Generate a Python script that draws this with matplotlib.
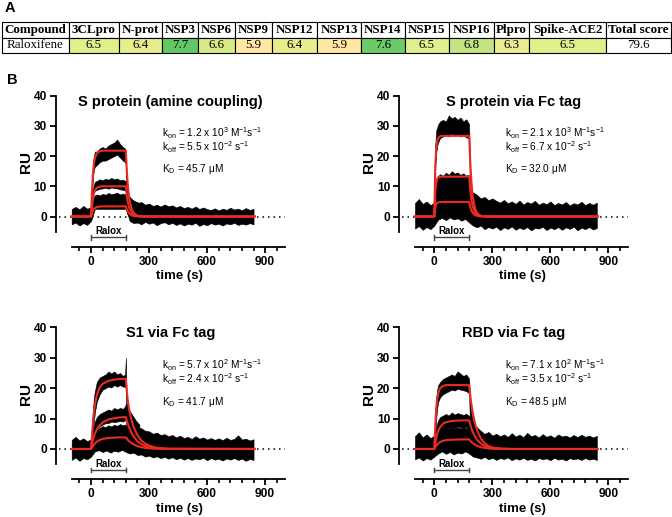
import matplotlib
matplotlib.use("Agg")
import matplotlib.pyplot as plt
from matplotlib.colors import LinearSegmentedColormap, Normalize
from matplotlib.ticker import FixedLocator

plt.rcParams["font.family"] = ["Liberation Sans", "DejaVu Sans"]
plt.rcParams["mathtext.default"] = "regular"

# ---- panel A: docking score table ----
headers = ["Compound", "3CLpro", "N-prot", "NSP3", "NSP6", "NSP9", "NSP12", "NSP13",
           "NSP14", "NSP15", "NSP16", "Plpro", "Spike-ACE2", "Total score"]
compound = "Raloxifene"
scores = [6.5, 6.4, 7.7, 6.6, 5.9, 6.4, 5.9, 7.6, 6.5, 6.8, 6.3, 6.5]
total_score = 79.6

# ---- panel B: SPR sensorgrams ----
titles = ["S protein (amine coupling)", "S protein via Fc tag", "S1 via Fc tag", "RBD via Fc tag"]
kon_mant = [1.2, 2.1, 5.7, 7.1]
kon_exp = [3, 3, 2, 2]
koff_mant = [5.5, 6.7, 2.4, 3.5]
koff_exp = [-2, -2, -2, -2]
kd_um = [45.7, 32.0, 41.7, 48.5]

# noise envelope of the baseline trace (s, RU)
t_base = [-100, -80, -60, -40, -20, 0, 20, 40, 60, 80, 100, 120, 140, 160, 180, 200, 220, 240,
          260, 280, 300, 320, 340, 360, 380, 400, 420, 440, 460, 480, 500, 520, 540, 560, 580,
          600, 620, 640, 660, 680, 700, 720, 740, 760, 780, 800, 820, 840]
# noise envelope of the three association traces
t_assoc = [0, 5, 10, 15, 20, 30, 45, 60, 75, 90, 105, 120, 135, 150, 165, 176, 180, 184, 190,
           200, 215, 230, 250]
# fitted 1:1 binding curves
t_fit = [-100, 0, 5, 10, 15, 20, 30, 45, 60, 90, 120, 150, 180, 185, 190, 195, 200, 210, 220,
         240, 260, 280, 300, 340, 400, 845]

# S protein (amine coupling)
p1_base_hi = [2.5, 3.2, 2.4, 3.5, 2.6, 3.0,
              5.0, 5.0, 5.0, 5.0, 5.0, 5.0, 5.0, 5.0, 5.0,
              6.0, 5.2, 4.4, 4.8, 3.9, 4.3, 3.5, 3.9, 3.3, 4.0,
              3.4, 3.7, 3.0, 3.5, 2.8, 3.2, 2.6, 3.3, 2.5, 3.0,
              2.4, 2.2, 2.7, 2.0, 2.6, 2.2, 2.9, 2.3, 2.6, 2.1,
              2.8, 2.2, 2.5]
p1_base_lo = [-2.6, -2.0, -3.0, -2.2, -2.8, -1.5,
              2.5, 2.5, 2.5, 2.5, 2.5, 2.5, 2.5, 2.5, 2.5,
              -1.5, -2.2, -2.0, -2.6, -1.8, -2.4, -2.0, -2.9, -2.2, -1.9,
              -2.6, -2.1, -2.8, -2.3, -3.0, -2.4, -2.7, -2.1, -3.1, -2.5,
              -2.9, -2.2, -2.7, -2.4, -3.0, -2.3, -2.6, -2.1, -2.8, -2.4,
              -2.7, -2.2, -2.6]
p1_top_hi = [0.5, 12, 18, 20, 21.5, 21.5, 22.5, 23, 22.5, 23.5, 24, 24.5, 25.5, 24, 23, 22.5, 21.5, 13, 8, 6.5, 5.5, 5, 4.5]
p1_top_lo = [-0.5, 7, 13, 15.5, 16.5, 17, 18, 18.5, 18.5, 19, 19.5, 20, 20.5, 19.5, 18.5, 18, 17, 5, 2, 0.5, 0, -0.5, -1]
p1_mid_hi = [0.5, 6, 9, 10.5, 11.5, 11.8, 12.3, 12, 12.5, 12.2, 12.8, 12.3, 12.6, 12, 12.2, 11.8, 11.5, 8, 6, 5.5, 5, 4.5, 4.2]
p1_mid_lo = [-0.5, 3, 6.5, 8, 8.5, 8.8, 9.2, 9.3, 9.5, 9.2, 9.6, 9.4, 9.3, 9, 8.8, 8.6, 8.2, 3, 1, 0, -0.5, -1, -1.5]
p1_low_hi = [0.5, 4, 5.5, 6.5, 7, 7.3, 7, 7.5, 7.2, 7.8, 7.4, 7.6, 7.9, 7.3, 7.6, 7.4, 7, 5, 4.5, 4.5, 4.2, 4, 4]
p1_low_lo = [-0.5, 1.5, 2.5, 3, 3.3, 3.5, 3.6, 3.8, 3.6, 3.9, 3.7, 3.8, 3.9, 3.6, 3.7, 3.5, 3.5, 1.5, 0.5, 0, -0.5, -1, -1.2]
p1_fit_hi = [0, 0, 8.5, 14, 17.5, 19.3, 20.9, 21.6, 21.8, 21.8, 21.8, 21.8, 21.8, 15, 10.5, 7.5, 5.2, 2.6, 1.2, 0.3, 0.05, 0, 0, 0, 0, 0]
p1_fit_mid = [0, 0, 3.5, 6, 7.6, 8.6, 9.5, 9.9, 10, 10, 10, 10, 10, 7, 4.8, 3.4, 2.4, 1.2, 0.55, 0.15, 0.02, 0, 0, 0, 0, 0]
p1_fit_low = [0, 0, 1.1, 1.9, 2.5, 2.8, 3.1, 3.3, 3.35, 3.35, 3.35, 3.35, 3.35, 2.4, 1.7, 1.2, 0.85, 0.4, 0.2, 0.05, 0, 0, 0, 0, 0, 0]

# S protein via Fc tag
p2_base_hi = [4.5, 5.8, 4.2, 5.0, 3.8, 4.6,
              6.5, 7.0, 6.2, 7.2, 6.8, 7.5, 6.6, 7.0, 7.5,
              8.0, 7.2, 6.0, 6.5, 5.4, 6.0, 5.2, 4.6, 5.5, 4.4,
              5.0, 4.2, 5.3, 4.0, 4.8, 4.3, 5.2, 3.9, 4.6, 4.1,
              5.0, 3.8, 4.5, 4.0, 4.8, 3.7, 4.4, 4.0, 4.9, 3.8,
              4.5, 3.9, 4.6]
p2_base_lo = [-4.0, -3.2, -4.4, -3.5, -4.2, -3.0,
              -1.0, -0.5, -1.2, -0.3, -1.0, -0.6, -1.4, -0.8, -2.0,
              -3.0, -3.6, -3.0, -4.2, -3.5, -4.0, -3.4, -4.5, -3.6, -4.1,
              -3.3, -4.4, -3.7, -4.2, -3.5, -4.6, -3.8, -4.0, -3.4, -4.5,
              -3.7, -4.2, -3.5, -4.4, -3.6, -4.1, -3.4, -4.6, -3.7, -4.2,
              -3.5, -4.3, -3.8]
p2_top_hi = [1, 24, 28.5, 29.5, 30.5, 31.5, 32, 31.5, 33.5, 32.5, 33, 32, 32.8, 31.5, 32.2, 31, 30.5, 18, 10, 7, 6.5, 6, 5.5]
p2_top_lo = [-1, 16, 21, 23.5, 24.5, 26, 26.5, 27, 26.5, 27.5, 26.8, 27.2, 26.5, 27, 26.2, 26, 25.5, 6, 1, -1, -2, -2.5, -3]
p2_mid_hi = [1, 9, 12, 13, 13.5, 14, 13.5, 14.5, 13.8, 15, 14.2, 14.6, 13.8, 14.3, 13.5, 13.8, 13.5, 9, 6, 5.5, 5, 5, 5]
p2_mid_lo = [-1, 4, 7, 8, 8.5, 8.8, 9, 9.2, 8.8, 9.5, 9, 9.3, 8.8, 9.1, 8.7, 8.8, 8.5, 2, 0, -1, -1.5, -2, -2.5]
p2_low_hi = [1, 6, 8, 9, 9.5, 10, 9.5, 10.5, 9.8, 10.2, 9.6, 10.4, 9.8, 10.1, 9.7, 9.8, 9.5, 6, 5, 4.5, 4.5, 4.5, 4.5]
p2_low_lo = [-1, 1.5, 2.5, 3, 3.2, 3.5, 3.4, 3.8, 3.5, 3.7, 3.4, 3.6, 3.3, 3.5, 3.2, 3.4, 3.2, 0, -1, -1.5, -2, -2.5, -3]
p2_fit_hi = [0, 0, 17, 22.5, 25, 26, 26.6, 26.7, 26.7, 26.7, 26.7, 26.7, 26.7, 19, 13, 9, 6, 2.8, 1.2, 0.25, 0.05, 0, 0, 0, 0, 0]
p2_fit_mid = [0, 0, 8.4, 11.2, 12.4, 12.9, 13.15, 13.2, 13.2, 13.2, 13.2, 13.2, 13.2, 9.4, 6.4, 4.4, 3.0, 1.4, 0.6, 0.12, 0.02, 0, 0, 0, 0, 0]
p2_fit_low = [0, 0, 3.0, 4.0, 4.5, 4.7, 4.8, 4.8, 4.8, 4.8, 4.8, 4.8, 4.8, 3.4, 2.3, 1.6, 1.1, 0.5, 0.22, 0.04, 0, 0, 0, 0, 0, 0]

# S1 via Fc tag
p3_base_hi = [3.0, 4.0, 2.8, 3.5, 2.6, 3.2,
              4.8, 5.2, 4.6, 5.4, 5.0, 5.6, 4.9, 5.5, 6.0,
              8.5, 8.0, 7.2, 6.8, 6.0, 5.8, 5.0, 5.4, 4.6, 4.9,
              4.2, 4.6, 3.8, 4.4, 3.6, 4.0, 3.3, 4.2, 3.4, 3.8,
              3.1, 3.6, 3.0, 3.5, 2.9, 3.7, 3.0, 3.3, 4.5, 3.1,
              3.4, 2.8, 3.2]
p3_base_lo = [-3.6, -2.8, -3.9, -3.0, -3.4, -2.5,
              -0.8, -0.4, -1.0, -0.5, -1.2, -0.6, -0.9, -0.3, -1.0,
              -1.5, -1.2, -2.0, -1.8, -2.5, -2.2, -2.8, -2.4, -3.0, -2.6,
              -3.2, -2.7, -3.4, -2.9, -3.5, -3.0, -3.6, -3.1, -3.4, -2.9,
              -3.7, -3.0, -3.5, -3.2, -3.8, -3.1, -3.5, -3.0, -3.6, -3.2,
              -3.9, -3.3, -3.6]
p3_top_hi = [1, 8, 13, 17, 19, 22, 23.5, 24, 24.5, 25.5, 24.8, 25.5, 24.5, 25, 24, 24.5, 30, 16, 14, 12.5, 11, 9.5, 8]
p3_top_lo = [-1, 2, 6, 9, 12, 15.5, 18, 19.5, 20, 20.5, 20.2, 21, 20.5, 21, 20.5, 20.5, 20, 11, 8.5, 7, 5, 3.5, 2]
p3_mid_hi = [1, 4, 6, 7.5, 9, 10.5, 11.5, 12, 12.5, 13, 12.6, 13.5, 13, 13.5, 13.2, 14, 15, 13, 11.5, 10, 8.5, 7.5, 6.5]
p3_mid_lo = [-1, 1, 2.5, 4, 5, 6.5, 7.5, 8, 8.5, 8.5, 9, 8.8, 9, 9.2, 9, 9.5, 9, 7, 5.5, 4, 3, 2, 1]
p3_low_hi = [1, 3, 4, 5, 5.5, 6.5, 7, 7.5, 7.2, 7.8, 7.4, 8, 7.6, 8.2, 7.8, 8, 8, 7, 6.5, 6, 5.5, 5, 4.5]
p3_low_lo = [-1, 0, 0.5, 1, 1.5, 2, 2.5, 2.8, 2.6, 3, 2.8, 3.1, 2.9, 3, 2.8, 3, 3, 2, 1.5, 1, 0.5, 0, -0.5]
p3_fit_hi = [0, 0, 4.5, 8.5, 12, 14.5, 17.8, 20.3, 21.4, 22.4, 22.8, 23, 23.1, 19, 16, 13.8, 12, 9.3, 7.3, 4.5, 2.8, 1.8, 1.1, 0.4, 0.08, 0]
p3_fit_mid = [0, 0, 1.6, 3.0, 4.1, 5.0, 6.4, 7.8, 8.7, 9.7, 10.1, 10.4, 10.5, 9.3, 8.3, 7.4, 6.6, 5.2, 4.1, 2.5, 1.6, 1.0, 0.6, 0.22, 0.05, 0]
p3_fit_low = [0, 0, 0.55, 1.0, 1.4, 1.8, 2.4, 3.0, 3.3, 3.6, 3.75, 3.8, 3.8, 3.4, 3.0, 2.7, 2.4, 1.9, 1.5, 0.9, 0.6, 0.35, 0.2, 0.07, 0.01, 0]

# RBD via Fc tag
p4_base_hi = [4.2, 5.5, 3.8, 4.8, 3.6, 4.4,
              5.0, 5.5, 4.8, 5.8, 5.2, 6.0, 5.4, 5.8, 6.0,
              7.0, 6.2, 5.6, 5.0, 5.6, 4.4, 5.0, 4.2, 4.8, 4.0,
              5.2, 4.1, 4.7, 3.9, 5.3, 4.2, 4.6, 3.8, 4.9, 4.0,
              4.5, 3.7, 4.8, 4.1, 4.4, 3.8, 4.6, 3.9, 4.7, 4.0,
              4.4, 3.8, 4.3]
p4_base_lo = [-3.4, -2.8, -3.8, -3.0, -3.5, -2.5,
              -1.5, -0.8, -1.6, -1.0, -1.8, -1.2, -1.5, -0.8, -1.5,
              -2.5, -2.8, -3.2, -2.6, -3.4, -2.9, -3.6, -3.0, -3.3, -2.8,
              -3.7, -3.1, -3.5, -2.9, -3.6, -3.2, -3.8, -3.0, -3.4, -3.1,
              -3.7, -2.9, -3.5, -3.2, -3.8, -3.0, -3.4, -3.1, -3.6, -3.0,
              -3.5, -3.2, -3.6]
p4_top_hi = [1, 12, 17, 19.5, 21, 22, 23, 23.5, 24, 24.5, 24, 25.5, 24.8, 24, 24.5, 23.5, 23, 17, 12, 9, 7.5, 6.5, 5.5]
p4_top_lo = [-1, 5, 10, 13.5, 15.5, 17, 18, 18.5, 19, 19.5, 19.2, 19.8, 19.5, 19.3, 19, 18.5, 18, 8, 4, 2, 1, 0, -1]
p4_mid_hi = [1, 5, 7, 8.5, 9.5, 10.5, 11, 11.5, 11, 12, 11.3, 11.8, 11.5, 11.2, 11.6, 11, 11, 9.5, 8, 7, 6, 5.5, 5]
p4_mid_lo = [-1, 1, 2.5, 4, 5, 6, 6.5, 7, 7, 7.2, 7, 7.3, 7.1, 7, 7.2, 7, 6.8, 5, 3.5, 2.5, 1.5, 0.5, -0.5]
p4_low_hi = [1, 3, 4, 5, 5.5, 6, 6.5, 7, 6.8, 7.2, 6.9, 7.1, 6.8, 7, 6.9, 7, 6.8, 6, 5.5, 5, 4.5, 4, 4]
p4_low_lo = [-1, -0.5, 0, 0.5, 1, 1.5, 1.8, 2, 1.8, 2.1, 1.9, 2, 1.8, 2, 1.9, 2, 1.8, 1, 0.5, 0, -0.5, -1, -1.5]
p4_fit_hi = [0, 0, 8, 13.5, 16.5, 18.3, 20, 20.7, 21, 21, 21, 21, 21, 18, 15.5, 13.3, 11.5, 8.5, 6.3, 3.5, 1.9, 1.0, 0.5, 0.12, 0, 0]
p4_fit_mid = [0, 0, 2, 3.7, 4.9, 5.9, 7.2, 8.3, 8.8, 9.2, 9.35, 9.4, 9.4, 8.2, 7.1, 6.2, 5.4, 4.1, 3.1, 1.8, 1.0, 0.55, 0.3, 0.07, 0, 0]
p4_fit_low = [0, 0, 0.6, 1.1, 1.5, 1.8, 2.3, 2.7, 2.9, 3.05, 3.1, 3.15, 3.15, 2.75, 2.4, 2.1, 1.85, 1.4, 1.05, 0.6, 0.35, 0.2, 0.1, 0.02, 0, 0]

RED = "#ec2a22"

fig = plt.figure(figsize=(6.72, 5.17), dpi=100)

# ---------- table ----------
tax = fig.add_axes([2 / 672, 1 - 53.3 / 517, 668.6 / 672, 31.6 / 517])
tax.axis("off")
col_px = [66.6, 50, 43.4, 35.6, 37.7, 36.7, 45, 44.3, 43.3, 44.4, 44.6, 35.4, 77.3, 64.3]
col_w = [w / sum(col_px) for w in col_px]
cmap = LinearSegmentedColormap.from_list(
    "score", [(0.0, "#ffe8a1"), (0.333, "#e1ee8c"), (1.0, "#63c766")])
norm = Normalize(5.9, 7.7)
cell_colors = ["white"] + [cmap(norm(s)) for s in scores] + ["white"]
cell_text = [compound] + [f"{s:.1f}" for s in scores] + [f"{total_score:.1f}"]
tbl = tax.table(cellText=[cell_text], colLabels=headers, cellColours=[cell_colors],
                colWidths=col_w, cellLoc="center", bbox=[0, 0, 1, 1])
tbl.auto_set_font_size(False)
for (r, c), cell in tbl.get_celld().items():
    cell.set_linewidth(0.8)
    cell.PAD = 0.02
    txt = cell.get_text()
    txt.set_fontfamily("Liberation Serif")
    txt.set_fontsize(9.4)
    if r == 0:
        txt.set_fontweight("bold")

fig.text(10 / 672, 1 - 7.5 / 517, "A", fontsize=10.5, fontweight="bold", ha="center", va="center")
fig.text(12 / 672, 1 - 80 / 517, "B", fontsize=10.5, fontweight="bold", ha="center", va="center")

# ---------- sensorgrams ----------
panels = [
    (p1_base_hi, p1_base_lo, [(p1_top_hi, p1_top_lo), (p1_mid_hi, p1_mid_lo), (p1_low_hi, p1_low_lo)],
     [p1_fit_hi, p1_fit_mid, p1_fit_low]),
    (p2_base_hi, p2_base_lo, [(p2_top_hi, p2_top_lo), (p2_mid_hi, p2_mid_lo), (p2_low_hi, p2_low_lo)],
     [p2_fit_hi, p2_fit_mid, p2_fit_low]),
    (p3_base_hi, p3_base_lo, [(p3_top_hi, p3_top_lo), (p3_mid_hi, p3_mid_lo), (p3_low_hi, p3_low_lo)],
     [p3_fit_hi, p3_fit_mid, p3_fit_low]),
    (p4_base_hi, p4_base_lo, [(p4_top_hi, p4_top_lo), (p4_mid_hi, p4_mid_lo), (p4_low_hi, p4_low_lo)],
     [p4_fit_hi, p4_fit_mid, p4_fit_low]),
]
positions = [
    [56 / 672, (517 - 246.7) / 517, 228.5 / 672, 151 / 517],
    [399.3 / 672, (517 - 246.7) / 517, 228.5 / 672, 151 / 517],
    [56 / 672, (517 - 479.4) / 517, 228.5 / 672, 152.1 / 517],
    [399.3 / 672, (517 - 479.4) / 517, 228.5 / 672, 152.1 / 517],
]
minor_ticks = [t for t in range(-60, 1000, 60) if t % 300 != 0]

for i, (base_hi, base_lo, bands, fits) in enumerate(panels):
    ax = fig.add_axes(positions[i])
    ax.set_xlim(-181, 1000)
    ax.set_ylim(-10, 40)

    ax.plot([-165, 1000], [0, 0], color="black", lw=1.1, ls=(0, (1, 2.6)), zorder=1)
    ax.fill_between(t_base, base_lo, base_hi, color="black", lw=0.4, zorder=2)
    for hi, lo in bands:
        ax.fill_between(t_assoc, lo, hi, color="black", lw=0.4, zorder=2)
    for f in fits:
        ax.plot(t_fit, f, color=RED, lw=1.5, zorder=3)

    # injection bracket
    ax.plot([0, 180], [-6.9, -6.9], color="#444444", lw=1.0, clip_on=False)
    ax.plot([0, 0], [-6.1, -7.7], color="#444444", lw=1.0, clip_on=False)
    ax.plot([180, 180], [-6.1, -7.7], color="#444444", lw=1.0, clip_on=False)
    ax.text(90, -4.9, "Ralox", ha="center", va="center", fontsize=7, fontweight="bold")

    ax.text(410, 38, titles[i], ha="center", va="center", fontsize=10.5, fontweight="bold")
    ax.text(365, 27.6, f"k$_{{on}}$ = {kon_mant[i]} x 10$^{{{kon_exp[i]}}}$ M$^{{-1}}$s$^{{-1}}$",
            fontsize=7.3, va="center", ha="left")
    ax.text(365, 22.9, f"k$_{{off}}$ = {koff_mant[i]} x 10$^{{{koff_exp[i]}}}$ s$^{{-1}}$",
            fontsize=7.3, va="center", ha="left")
    ax.text(365, 15.6, f"K$_{{D}}$ = {kd_um[i]:.1f} μM", fontsize=7.3, va="center", ha="left")

    for s in ["top", "right"]:
        ax.spines[s].set_visible(False)
    ax.spines["left"].set_bounds(-5, 40)
    ax.spines["bottom"].set_bounds(-100, 1000)
    ax.spines["left"].set_linewidth(1.3)
    ax.spines["bottom"].set_linewidth(1.3)

    ax.set_xticks([0, 300, 600, 900])
    ax.xaxis.set_minor_locator(FixedLocator(minor_ticks))
    ax.set_yticks([0, 10, 20, 30, 40])
    ax.tick_params(which="major", direction="out", length=4.5, width=1.3, labelsize=8.6, pad=2)
    ax.tick_params(which="minor", direction="out", length=3, width=1.2)
    for lab in ax.get_xticklabels() + ax.get_yticklabels():
        lab.set_fontweight("bold")

    ax.set_ylabel("RU", fontsize=11, fontweight="bold")
    ax.yaxis.set_label_coords(-0.1, 0.56)
    ax.set_xlabel("time (s)", fontsize=9.5, fontweight="bold")
    ax.xaxis.set_label_coords(0.54, -0.155)

fig.savefig("out.png", dpi=100)
